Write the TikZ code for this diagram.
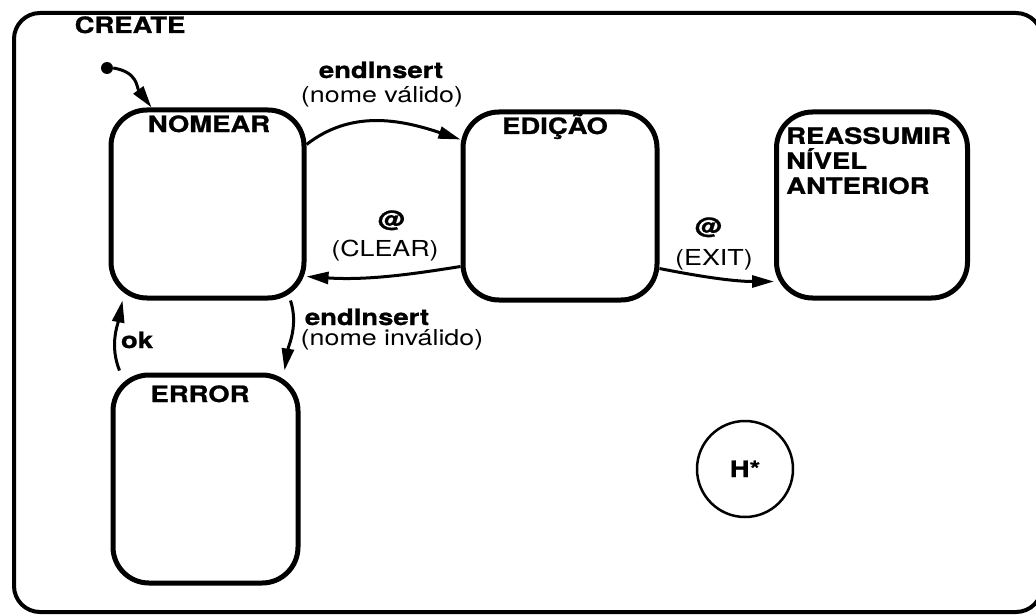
\documentclass[tikz,border=0pt]{standalone}
\usepackage{fontspec}
\setmainfont{TeX Gyre Heros}[FakeStretch=1.22,BoldFeatures={FakeBold=1}]
\usetikzlibrary{arrows.meta}
\begin{document}
\begin{tikzpicture}[x=1pt,y=-1pt,
  statebox/.style={draw,line width=5pt,rounded corners=36pt,inner sep=0pt},
  lbl/.style={inner sep=0pt,anchor=base,font=\fontsize{22.5}{25}\selectfont\bfseries},
  sub/.style={inner sep=0pt,anchor=base,font=\fontsize{22}{25}\selectfont},
  conn/.style={line width=3pt,-{Triangle[length=22pt,width=12pt]}}]
\clip (0,0) rectangle (1036,615);
\draw[line width=4pt,rounded corners=26pt] (14,13) rectangle (1042,612);
% states
\node[statebox,minimum width=193pt,minimum height=188pt] (nomear) at (207.5,204) {};
\node[statebox,minimum width=194pt,minimum height=188pt] (edicao) at (560,206) {};
\node[statebox,minimum width=191pt,minimum height=186pt] (reassumir) at (872,205) {};
\node[statebox,minimum width=185pt,minimum height=208pt] (error) at (205.5,479) {};
\node[draw,circle,line width=2.5pt,minimum size=96pt,inner sep=0pt] (hstar) at (745,469) {};
% state labels
\node[lbl] (tcreate) at (130,33) {CREATE};
\node[lbl] (tnomear) at (209,132) {NOMEAR};
\node[lbl] (tedicao) at (555,134) {EDIÇÃO};
\node[lbl,anchor=north west,align=left] (treass) at (786,127) {REASSUMIR\\NÍVEL\\ANTERIOR};
\node[lbl] (terror) at (200,402) {ERROR};
\node[lbl] (th) at (745,477) {H*};
% initial
\node[circle,fill,inner sep=0pt,minimum size=12pt] (init) at (107,68) {};
\coordinate (nomeartop) at ([xshift=-56pt]nomear.north);
\draw[conn] (init.east) .. controls +(25,4) and +(-15,-20) .. (nomeartop);
% endInsert valido
\draw[conn] ([yshift=-37pt]nomear.north east) .. controls +(45,-35) and +(-60,-20) .. ([yshift=-30pt]edicao.north west);
\node[lbl] (t1) at (381,78) {endInsert};
\node[sub] (t1b) at (382,103) {(nome válido)};
% CLEAR
\draw[conn] ([yshift=36pt]edicao.south west) .. controls +(-50,8) and +(60,4) .. ([yshift=24pt]nomear.south east);
\node[lbl] (t2) at (391,227) {@};
\node[sub] (t2b) at (385,256) {(CLEAR)};
% EXIT
\draw[conn] ([yshift=34pt]edicao.south east) .. controls +(40,8) and +(-40,0) .. ([yshift=19pt]reassumir.south west);
\node[lbl] (t3) at (708,234) {@};
\node[sub] (t3b) at (714,265) {(EXIT)};
% endInsert invalido
\draw[conn] ([xshift=-16pt]nomear.south east) .. controls +(8,25) and +(4,-25) .. ([xshift=-16pt,yshift=2pt]error.north east);
\node[lbl] (t4) at (367,325) {endInsert};
\node[sub] (t4b) at (392,345) {(nome inválido)};
% ok
\draw[conn] ([xshift=9pt,yshift=2pt]error.north west) .. controls +(-10,-25) and +(-5,25) .. ([xshift=14pt]nomear.south west);
\node[lbl] (t5) at (137,348) {ok};
\end{tikzpicture}
\end{document}
